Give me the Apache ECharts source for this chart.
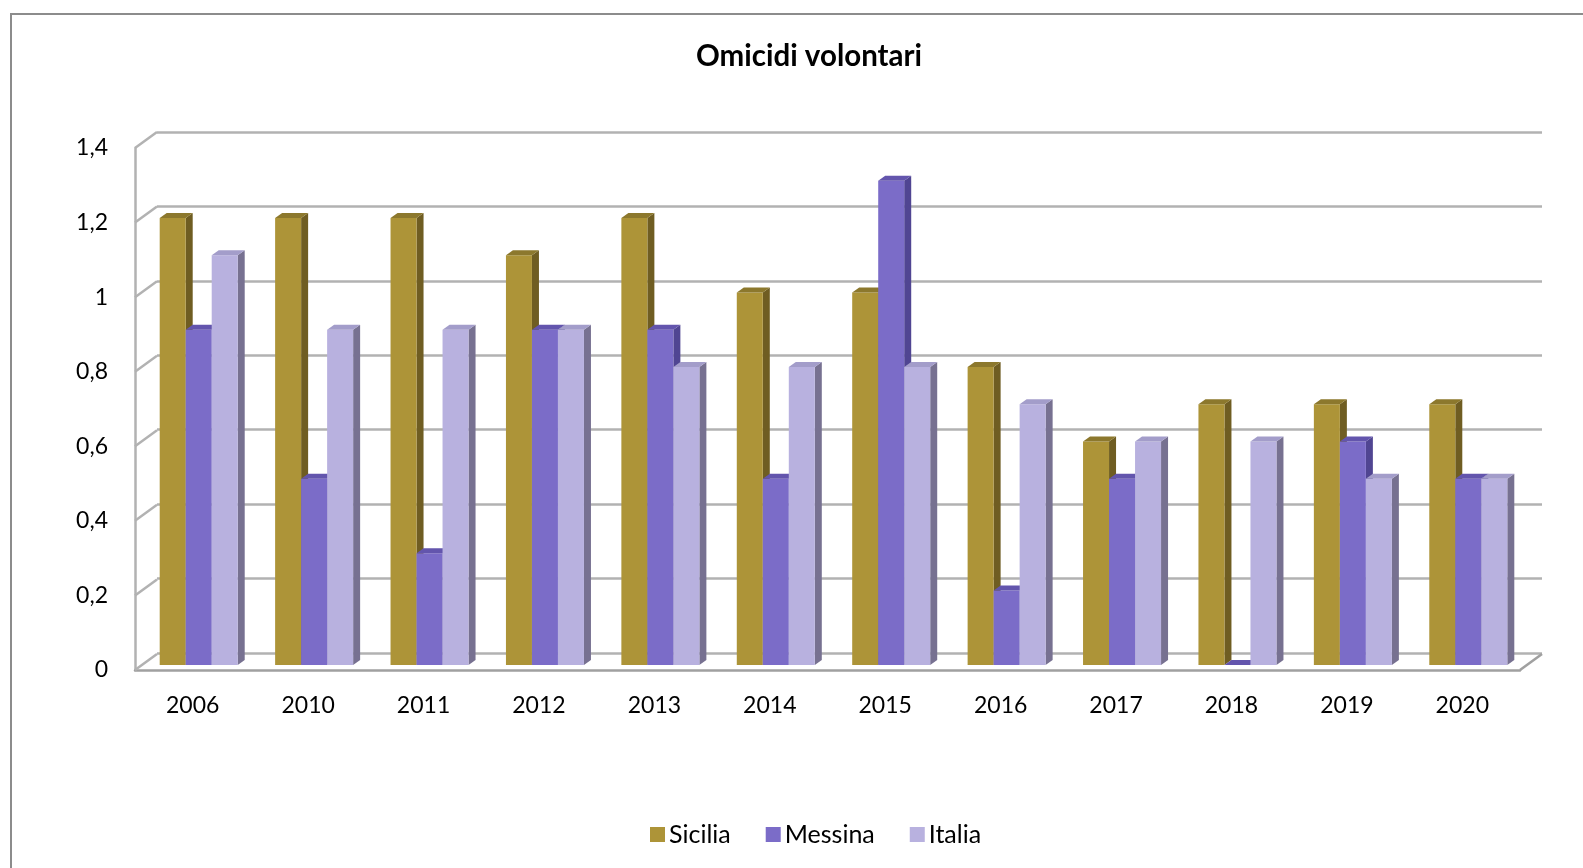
<!DOCTYPE html>
<html>
<head>
<meta charset="utf-8">
<script src="https://cdn.jsdelivr.net/npm/echarts@6/dist/echarts.min.js"></script>
<style>html,body{margin:0;padding:0;background:#fff;}#c{width:1583px;height:868px;}</style>
</head>
<body>
<div id="c"></div>
<script>
var categories = ['2006','2010','2011','2012','2013','2014','2015','2016','2017','2018','2019','2020'];
var sicilia = [1.2, 1.2, 1.2, 1.1, 1.2, 1.0, 1.0, 0.8, 0.6, 0.7, 0.7, 0.7];
var messina = [0.9, 0.5, 0.3, 0.9, 0.9, 0.5, 1.3, 0.2, 0.5, 0.0, 0.6, 0.5];
var italia  = [1.1, 0.9, 0.9, 0.9, 0.8, 0.8, 0.8, 0.7, 0.6, 0.6, 0.5, 0.5];
var seriesNames = ['Sicilia', 'Messina', 'Italia'];
var yTicks = [0, 0.2, 0.4, 0.6, 0.8, 1.0, 1.2, 1.4];

var chart = echarts.init(document.getElementById('c'));

var colors = {
  front: ['#AD9438', '#7B6CC8', '#B8B1DF'],
  side:  ['#6F5D22', '#504592', '#777191'],
  top:   ['#8C782D', '#6355AD', '#A39DCA']
};
var DEPTH_X = 7, DEPTH_Y = -5, BAR_FRAC = 26 / 115.4;
var WALL_DX = 22, WALL_DY = -16;

function fmt(v) { return String(Number(v.toFixed(1))).replace('.', ','); }

function barRender(si) {
  return function (params, api) {
    var ci = api.value(0), v = api.value(1);
    var b = api.coord([ci, 0]);
    var t = api.coord([ci, v]);
    var band = api.size([1, 0])[0];
    var bw = band * BAR_FRAC;
    var x0 = b[0] - 1.5 * bw + si * bw;
    var x1 = x0 + bw;
    var yb = b[1], yt = t[1];
    var children = [];
    children.push({ type: 'polygon', shape: { points: [[x1, yt], [x1 + DEPTH_X, yt + DEPTH_Y], [x1 + DEPTH_X, yb + DEPTH_Y], [x1, yb]] },
      style: { fill: colors.side[si] } });
    if (yb - yt > 0.5) {
      children.push({ type: 'rect', shape: { x: x0, y: yt, width: bw, height: yb - yt },
        style: { fill: colors.front[si] } });
    }
    children.push({ type: 'polygon', shape: { points: [[x0, yt], [x0 + DEPTH_X, yt + DEPTH_Y], [x1 + DEPTH_X, yt + DEPTH_Y], [x1, yt]] },
      style: { fill: colors.top[si] } });
    return { type: 'group', children: children };
  };
}

function frameRender(params, api) {
  var v = api.value(1);
  var p = api.coord([0, v]);
  var band = api.size([1, 0])[0];
  var xl = p[0] - band / 2;
  var children = [{ type: 'line', shape: { x1: xl, y1: p[1], x2: xl + WALL_DX, y2: p[1] + WALL_DY },
    style: { stroke: '#b2b2b2', lineWidth: 2.5 } }];
  if (params.dataIndex === 0) {
    var pr = api.coord([categories.length - 1, 0]);
    var xr = pr[0] + band / 2;
    children.push({ type: 'line', shape: { x1: xr, y1: pr[1], x2: xr + WALL_DX, y2: pr[1] + WALL_DY },
      style: { stroke: '#a0a0a0', lineWidth: 2.5 } });
  }
  return { type: 'group', children: children };
}

var data3 = [sicilia, messina, italia];
var series = [];
series.push({
  type: 'custom', name: 'frame', xAxisIndex: 1, yAxisIndex: 1, silent: true,
  renderItem: frameRender,
  data: yTicks.map(function (v) { return [0, v]; }), z: 1
});
for (var s = 0; s < 3; s++) {
  series.push({
    type: 'custom', name: seriesNames[s], xAxisIndex: 2, yAxisIndex: 2,
    renderItem: barRender(s),
    itemStyle: { color: colors.front[s] },
    encode: { x: 0, y: 1 },
    data: data3[s].map(function (v, i) { return [i, v]; }), z: 3
  });
}

var FONT = 'Lato, "Open Sans", sans-serif';

chart.setOption({
  animation: false,
  backgroundColor: '#ffffff',
  title: {
    text: 'Omicidi volontari', left: 804, top: 36, textAlign: 'center',
    textStyle: { fontFamily: FONT, fontWeight: 'bold', fontSize: 29.5, color: '#000' }
  },
  legend: {
    data: seriesNames, bottom: 16, left: 645,
    icon: 'rect', itemWidth: 15, itemHeight: 15, itemGap: 35,
    textStyle: { fontFamily: FONT, fontSize: 25, color: '#000', padding: [0, 0, 0, -1] }
  },
  graphic: [{
    type: 'rect', shape: { x: 11, y: 14, width: 1600, height: 900 },
    style: { fill: 'none', stroke: '#8c8c8c', lineWidth: 2 }, z: -10, silent: true
  }],
  grid: [
    { left: 157, top: 132, width: 1385, height: 521 },
    { left: 135, top: 148, width: 1385, height: 522 },
    { left: 141, top: 143.5, width: 1385, height: 521.5 }
  ],
  xAxis: [
    { type: 'category', gridIndex: 0, data: categories, show: false },
    { type: 'category', gridIndex: 1, data: categories,
      axisLine: { show: true, lineStyle: { color: '#a0a0a0', width: 2.5 } },
      axisTick: { show: false },
      axisLabel: { margin: 24, fontFamily: FONT, fontSize: 23, color: '#000' } },
    { type: 'category', gridIndex: 2, data: categories, show: false }
  ],
  yAxis: [
    { type: 'value', gridIndex: 0, min: 0, max: 1.4, interval: 0.2,
      axisLine: { show: false }, axisTick: { show: false }, axisLabel: { show: false },
      splitLine: { show: true, lineStyle: { color: '#b2b2b2', width: 2.5 } } },
    { type: 'value', gridIndex: 1, min: 0, max: 1.4, interval: 0.2,
      axisLine: { show: true, lineStyle: { color: '#b2b2b2', width: 2.5 } },
      axisTick: { show: false }, splitLine: { show: false },
      axisLabel: { margin: 27, fontFamily: FONT, fontSize: 23, color: '#000', formatter: fmt } },
    { type: 'value', gridIndex: 2, min: 0, max: 1.4, interval: 0.2, show: false, splitLine: { show: false } }
  ],
  series: series
});
</script>
</body>
</html>
